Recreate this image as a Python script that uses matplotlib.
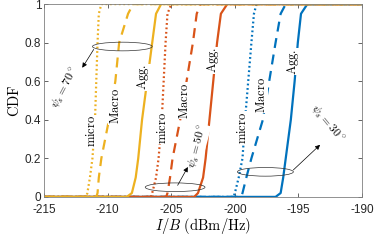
import matplotlib
matplotlib.use("Agg")
import matplotlib.pyplot as plt
from matplotlib.patches import Ellipse

plt.rcParams['mathtext.fontset'] = 'cm'
plt.rcParams['font.family'] = ['Liberation Sans', 'DejaVu Sans']

# CDF levels and the x position (dBm/Hz) where each curve reaches them
cdf_levels = [0, 0.02, 0.1, 0.2, 0.4, 0.6, 0.8, 0.95, 1]
y70_micro = [-211.7, -211.6, -211.4, -211.2, -211.0, -210.9, -210.8, -210.7, -210.5]
y70_macro = [-210.9, -210.8, -210.7, -210.5, -209.9, -209.4, -209.1, -208.4, -208.0]
y70_agg   = [-208.5, -208.1, -207.8, -207.6, -207.3, -206.9, -206.5, -206.2, -205.8]
o50_micro = [-206.6, -206.5, -206.2, -206.0, -205.75, -205.6, -205.45, -205.3, -205.0]
o50_macro = [-205.4, -205.3, -205.1, -204.9, -204.3, -203.8, -203.3, -203.0, -202.7]
o50_agg   = [-203.2, -202.9, -202.5, -202.3, -202.0, -201.7, -201.4, -201.1, -200.6]
b30_micro = [-200.1, -200.0, -199.7, -199.4, -199.2, -198.95, -198.7, -198.5, -198.3]
b30_macro = [-199.5, -199.4, -199.1, -198.7, -197.8, -197.3, -196.8, -196.4, -196.0]
b30_agg   = [-196.8, -196.4, -196.2, -196.0, -195.6, -195.3, -195.05, -194.8, -194.3]

xticks = [-215, -210, -205, -200, -195, -190]
yticks = [0, 0.2, 0.4, 0.6, 0.8, 1]

c_blue, c_orange, c_yellow = '#0072BD', '#D95319', '#EDB120'

fig = plt.figure(figsize=(3.74, 2.41), dpi=100)
ax = fig.add_axes([0.118, 0.183, 0.850, 0.800])

def curve(xs, color, ls):
    X = [-215] + list(xs) + [-190]
    Y = [0] + list(cdf_levels) + [1]
    kw = dict(color=color, lw=1.6)
    if ls == 'dot':
        kw.update(linestyle=(0, (0.8, 1.2)))
    elif ls == 'dash':
        kw.update(linestyle=(0, (4.5, 3.0)))
    ax.plot(X, Y, **kw)

for xs, ls in [(b30_micro, 'dot'), (b30_macro, 'dash'), (b30_agg, 'solid')]:
    curve(xs, c_blue, ls)
for xs, ls in [(o50_micro, 'dot'), (o50_macro, 'dash'), (o50_agg, 'solid')]:
    curve(xs, c_orange, ls)
for xs, ls in [(y70_micro, 'dot'), (y70_macro, 'dash'), (y70_agg, 'solid')]:
    curve(xs, c_yellow, ls)

ax.set_xlim(-215, -190)
ax.set_ylim(0, 1)
ax.set_xticks(xticks)
ax.set_yticks(yticks)
ax.set_xticklabels([str(v) for v in xticks])
ax.set_yticklabels(['0', '0.2', '0.4', '0.6', '0.8', '1'])
ax.tick_params(direction='in', length=3, width=0.5, colors='#262626', labelsize=8.5,
               top=True, right=True)
ax.tick_params(axis='x', pad=5)
ax.tick_params(axis='y', pad=2)
for s in ax.spines.values():
    s.set_color('#808080')
    s.set_linewidth(0.6)

ax.set_ylabel(r'$\mathrm{CDF}$', fontsize=10.5, labelpad=2)
ax.set_xlabel(r'$I/B$ $\mathrm{(dBm/Hz)}$', fontsize=10.5, labelpad=0)

bb = dict(facecolor='white', edgecolor='none', pad=0.3)
labels = [
    (-211.3, 0.34, 'micro'), (-209.4, 0.47, 'Macro'), (-207.2, 0.62, 'Agg.'),
    (-205.7, 0.36, 'micro'), (-204.0, 0.50, 'Macro'), (-201.7, 0.71, 'Agg.'),
    (-199.4, 0.36, 'micro'), (-197.9, 0.53, 'Macro'), (-195.4, 0.70, 'Agg.'),
]
for x, y, t in labels:
    ax.text(x, y, r'$\mathrm{%s}$' % t, rotation=90, fontsize=9, ha='center',
            va='center', bbox=bb, zorder=5)

# ellipses
for cx, cy, w in [(-208.85, 0.78, 4.7), (-204.7, 0.05, 4.7), (-197.6, 0.13, 4.4)]:
    ax.add_patch(Ellipse((cx, cy), w, 0.045, fill=False, ec='#333333', lw=0.5, zorder=6))

ap = dict(arrowstyle='-|>', lw=0.5, color='black', mutation_scale=7, shrinkA=0, shrinkB=0)
ax.annotate('', xy=(-212.0, 0.67), xytext=(-211.1, 0.765), arrowprops=ap, zorder=6)
ax.annotate('', xy=(-203.7, 0.155), xytext=(-204.5, 0.06), arrowprops=ap, zorder=6)
ax.annotate('', xy=(-193.3, 0.27), xytext=(-195.4, 0.14), arrowprops=ap, zorder=6)

ax.text(-213.3, 0.565, r'$\psi_s = 70^\circ$', rotation=62, fontsize=8.5, ha='center', va='center')
ax.text(-202.9, 0.26, r'$\psi_s = 50^\circ$', rotation=75, fontsize=8.5, ha='center', va='center',
        bbox=bb, zorder=5)
ax.text(-192.75, 0.38, r'$\psi_s = 30^\circ$', rotation=-50, fontsize=8.5, ha='center', va='center')

fig.savefig('out.png', dpi=100)
